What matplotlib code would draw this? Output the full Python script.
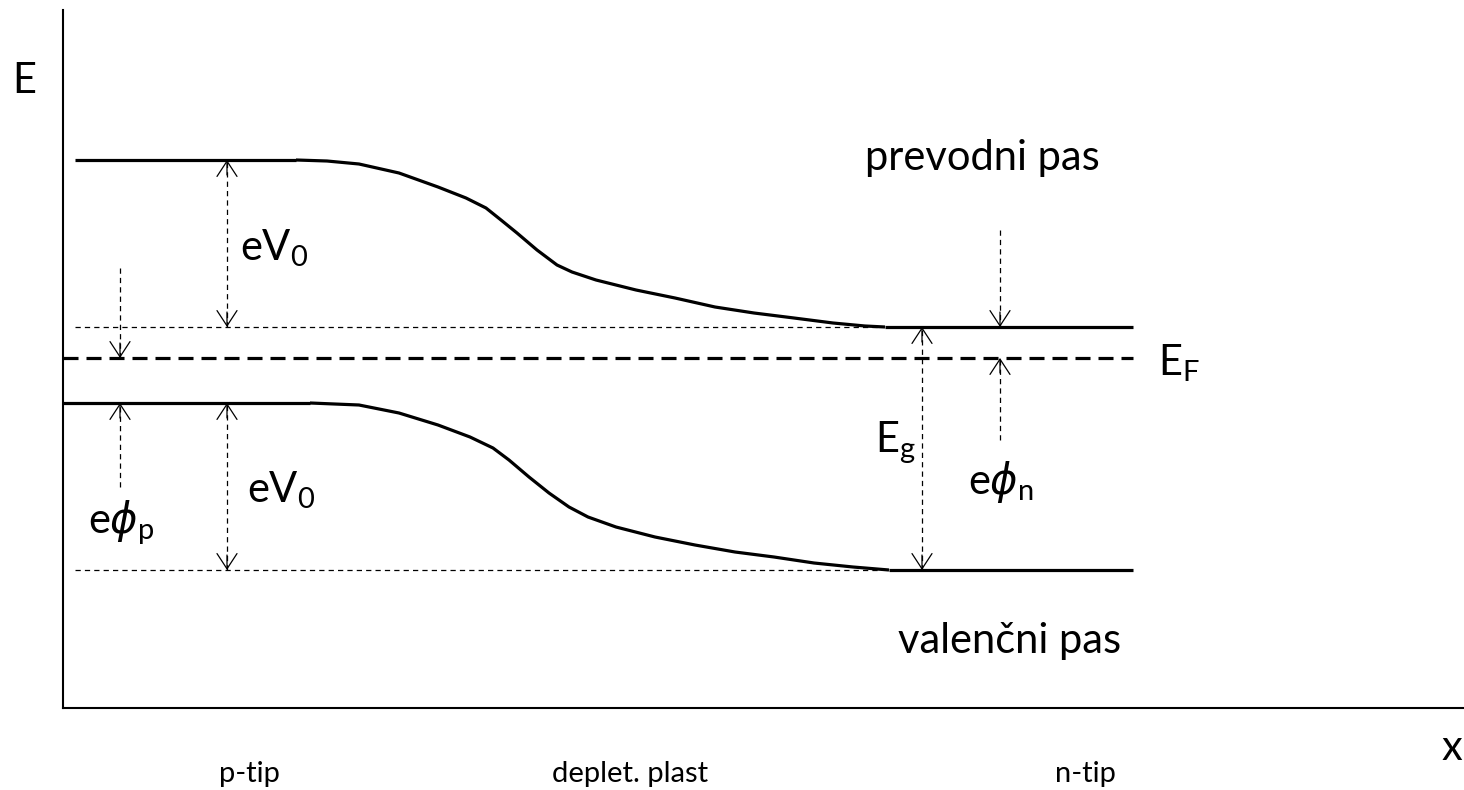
import matplotlib
matplotlib.use("Agg")
import matplotlib.pyplot as plt

plt.rcParams['font.family'] = ['Lato', 'DejaVu Sans']
plt.rcParams['mathtext.fontset'] = 'custom'
plt.rcParams['mathtext.rm'] = 'Lato'
plt.rcParams['mathtext.it'] = 'DejaVu Sans:italic'

# energy levels (arbitrary units, x along the junction)
E_c_p, E_c_n = 5.48, 3.81
E_v_p, E_v_n = 3.05, 1.38
E_F = 3.50

x_left, x_cstart, x_vstart = 0.0, 0.12, 0.0
x_ref_end, x_right = 8.17, 10.70

# conduction band through the depletion layer
cond_x = [2.33, 2.64, 2.96, 3.36, 3.75, 4.03, 4.23, 4.38, 4.54, 4.74, 4.94, 5.09, 5.33,
          5.73, 6.12, 6.52, 6.91, 7.31, 7.70, 8.02, 8.22]
cond_E = [5.48, 5.47, 5.44, 5.35, 5.21, 5.10, 5.00, 4.88, 4.75, 4.58, 4.43, 4.36, 4.28,
          4.18, 4.10, 4.01, 3.95, 3.90, 3.85, 3.82, 3.81]
# valence band through the depletion layer
val_x = [2.47, 2.96, 3.36, 3.75, 4.07, 4.30, 4.46, 4.66, 4.86, 5.06, 5.25, 5.53, 5.92,
         6.32, 6.72, 7.11, 7.51, 7.90, 8.26]
val_E = [3.05, 3.03, 2.95, 2.83, 2.71, 2.60, 2.48, 2.31, 2.15, 2.01, 1.91, 1.81, 1.71,
         1.63, 1.56, 1.51, 1.45, 1.41, 1.38]

x_eV0, x_phip, x_Eg, x_phin = 1.64, 0.57, 8.59, 9.37
phip_top, phip_bot = 4.40, 2.21
phin_top, phin_bot = 4.78, 2.68

fig = plt.figure(figsize=(14.64, 7.90), dpi=100)
ax = fig.add_axes([63 / 1464, 82 / 790, 1401 / 1464, 698 / 790])
ax.set_xlim(0, 14.01)
ax.set_ylim(0, 6.98)
for s in ['top', 'right']:
    ax.spines[s].set_visible(False)
for s in ['left', 'bottom']:
    ax.spines[s].set_linewidth(1.5)
ax.set_xticks([])
ax.set_yticks([])

band = dict(color='black', lw=2.3, solid_capstyle='butt', solid_joinstyle='round')
ax.plot([x_cstart, cond_x[0]], [E_c_p, E_c_p], **band)
ax.plot(cond_x, cond_E, **band)
ax.plot([cond_x[-1], x_right], [E_c_n, E_c_n], **band)
ax.plot([x_vstart, val_x[0]], [E_v_p, E_v_p], **band)
ax.plot(val_x, val_E, **band)
ax.plot([val_x[-1], x_right], [E_v_n, E_v_n], **band)

# Fermi level
ax.plot([x_left, x_right], [E_F, E_F], color='black', lw=2.3, dashes=(4.7, 2.5))
# reference levels
thin = dict(color='black', lw=0.9, dashes=(4.2, 3.3))
ax.plot([x_cstart, x_ref_end], [E_c_n, E_c_n], **thin)
ax.plot([x_cstart, x_ref_end], [E_v_n, E_v_n], **thin)


def arrow(x, y_from, y_to, both=False):
    # dashed shaft + open heads
    ax.plot([x, x], [y_from, y_to], color='black', lw=0.9, dashes=(4.2, 3.3))
    hs = '->,head_length=0.55,head_width=0.36'
    d = 0.15 if y_to > y_from else -0.15
    ax.annotate('', xy=(x, y_to), xytext=(x, y_to - d),
                arrowprops=dict(arrowstyle=hs, lw=0.9, color='black',
                                shrinkA=0, shrinkB=0, mutation_scale=20))
    if both:
        ax.annotate('', xy=(x, y_from), xytext=(x, y_from + d),
                    arrowprops=dict(arrowstyle=hs, lw=0.9, color='black',
                                    shrinkA=0, shrinkB=0, mutation_scale=20))


arrow(x_eV0, E_c_n, E_c_p, both=True)
arrow(x_eV0, E_v_n, E_v_p, both=True)
arrow(x_Eg, E_v_n, E_c_n, both=True)
arrow(x_phip, phip_top, E_F)
arrow(x_phip, phip_bot, E_v_p)
arrow(x_phin, phin_top, E_c_n)
arrow(x_phin, phin_bot, E_F)

fs = 30
kw = dict(fontsize=fs, clip_on=False, va='baseline')
ax.text(-0.51, 6.15, 'E', ha='left', **kw)
ax.text(13.89, -0.52, 'x', ha='center', **kw)
small = dict(fontsize=21, clip_on=False, va='baseline', ha='center')
ax.text(1.86, -0.74, 'p-tip', **small)
ax.text(5.67, -0.74, 'deplet. plast', **small)
ax.text(10.22, -0.74, 'n-tip', **small)
ax.text(8.02, 5.38, 'prevodni pas', ha='left', **kw)
ax.text(8.35, 0.55, 'valenčni pas', ha='left', **kw)
ax.text(10.95, 3.33, r'E$_\mathregular{F}$', ha='left', **kw)
ax.text(1.77, 4.48, r'eV$_\mathregular{0}$', ha='left', **kw)
ax.text(1.84, 2.06, r'eV$_\mathregular{0}$', ha='left', **kw)
ax.text(8.12, 2.56, r'E$_\mathregular{g}$', ha='left', **kw)
ax.text(0.25, 1.75, r'e$\phi_\mathregular{p}$', ha='left', **kw)
ax.text(9.05, 2.14, r'e$\phi_\mathregular{n}$', ha='left', **kw)

fig.savefig('out.png', dpi=100)
